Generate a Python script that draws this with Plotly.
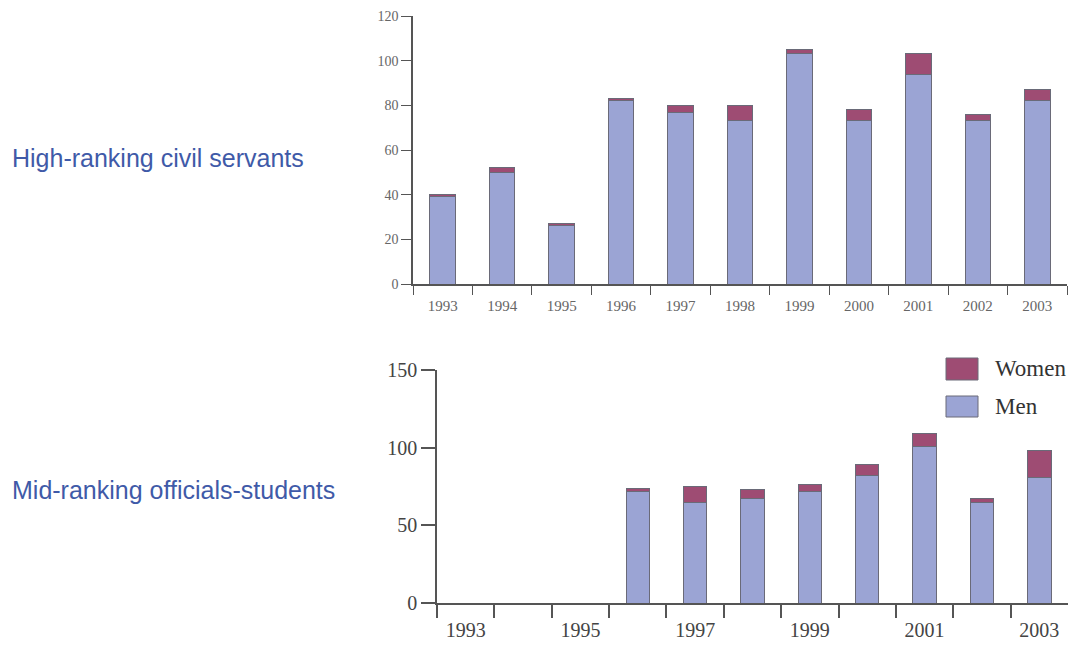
import plotly.graph_objects as go

years = ["1993", "1994", "1995", "1996", "1997", "1998", "1999", "2000", "2001", "2002", "2003"]

# high-ranking civil servants
high_men = [39, 50, 26, 82, 77, 73, 103, 73, 94, 73, 82]
high_women = [1, 2, 1, 1, 3, 7, 2, 5, 9, 3, 5]

# mid-ranking officials-students (no data before 1996)
mid_men = [None, None, None, 72, 65, 67, 72, 82, 101, 65, 81]
mid_women = [None, None, None, 2, 10, 6, 4, 7, 8, 2, 17]

mid_labels = ["1993", "", "1995", "", "1997", "", "1999", "", "2001", "", "2003"]

men_color = "#9ba4d4"
women_color = "#9e4c73"
edge = "#6a6a78"
label_blue = "#3f5aa8"

# body margin is removed in the page (see write_html), so the figure fills the window
W, H = 1076, 646


def px(x):
    return x / W


def py(y):
    return (H - y) / H


fig = go.Figure()

# top chart
fig.add_trace(go.Bar(x=years, y=high_men, marker=dict(color=men_color, line=dict(color=edge, width=1)),
                     width=0.43, xaxis="x", yaxis="y", showlegend=False, name="Men"))
fig.add_trace(go.Bar(x=years, y=high_women, marker=dict(color=women_color, line=dict(color=edge, width=1)),
                     width=0.43, xaxis="x", yaxis="y", showlegend=False, name="Women"))

# bottom chart
fig.add_trace(go.Bar(x=years, y=mid_men, marker=dict(color=men_color, line=dict(color=edge, width=1)),
                     width=0.41, xaxis="x2", yaxis="y2", showlegend=False, name="Men"))
fig.add_trace(go.Bar(x=years, y=mid_women, marker=dict(color=women_color, line=dict(color=edge, width=1)),
                     width=0.41, xaxis="x2", yaxis="y2", showlegend=False, name="Women"))

axis_col = "#555555"

fig.update_layout(
    width=W, height=H,
    margin=dict(l=0, r=0, t=0, b=0, autoexpand=False),
    paper_bgcolor="white", plot_bgcolor="white",
    barmode="stack",
    font=dict(family="Liberation Serif", color="#555555"),
    xaxis=dict(domain=[px(413), px(1067)], anchor="y", type="category", automargin=False,
               range=[-0.5, 10.5], tickson="boundaries", ticks="outside", ticklen=9,
               ticklabelstandoff=7,
               tickcolor=axis_col, tickwidth=1.2, showline=True, linecolor=axis_col, linewidth=1.5,
               showgrid=False, tickfont=dict(size=15, color="#666666")),
    yaxis=dict(domain=[py(284), py(16)], anchor="x", range=[0, 120], automargin=False,
               tickvals=[0, 20, 40, 60, 80, 100, 120], ticks="outside", ticklen=10,
               tickcolor=axis_col, tickwidth=1.2, showline=True, linecolor=axis_col, linewidth=1.5,
               showgrid=False, zeroline=False, tickfont=dict(size=14, color="#666666")),
    xaxis2=dict(domain=[px(437), px(1068)], anchor="y2", type="category", automargin=False,
                range=[-0.5, 10.5], tickson="boundaries", ticks="outside", ticklen=13,
                ticklabelstandoff=8,
                tickvals=years, ticktext=mid_labels,
                tickcolor=axis_col, tickwidth=1.5, showline=True, linecolor=axis_col, linewidth=1.5,
                showgrid=False, tickfont=dict(size=20, color="#444444")),
    yaxis2=dict(domain=[py(603), py(370)], anchor="x2", range=[0, 150], automargin=False,
                tickvals=[0, 50, 100, 150], ticks="outside", ticklen=14,
                tickcolor=axis_col, tickwidth=1.5, showline=True, linecolor=axis_col, linewidth=1.5,
                showgrid=False, zeroline=False, tickfont=dict(size=20, color="#444444")),
)

# row labels
fig.add_annotation(text="High-ranking civil servants", xref="paper", yref="paper",
                   x=px(10), y=py(158), xanchor="left", yanchor="middle", showarrow=False,
                   font=dict(family="Liberation Sans", size=25, color=label_blue))
fig.add_annotation(text="Mid-ranking officials-students", xref="paper", yref="paper",
                   x=px(10), y=py(490), xanchor="left", yanchor="middle", showarrow=False,
                   font=dict(family="Liberation Sans", size=25, color=label_blue))

# legend drawn by hand so the swatches match the original size
legend_items = [("Women", women_color, 358, 380), ("Men", men_color, 396, 417)]
for name, col, top, bot in legend_items:
    fig.add_shape(type="rect", xref="paper", yref="paper",
                  x0=px(946), x1=px(978), y0=py(bot), y1=py(top),
                  fillcolor=col, line=dict(color=edge, width=1))
    fig.add_annotation(text=name, xref="paper", yref="paper",
                       x=px(993), y=py((top + bot) / 2), xanchor="left", yanchor="middle",
                       showarrow=False, font=dict(family="Liberation Serif", size=23, color="#333333"))

fig.write_html("out.html", config={"displayModeBar": False},
               post_script="document.body.style.margin='0';")
